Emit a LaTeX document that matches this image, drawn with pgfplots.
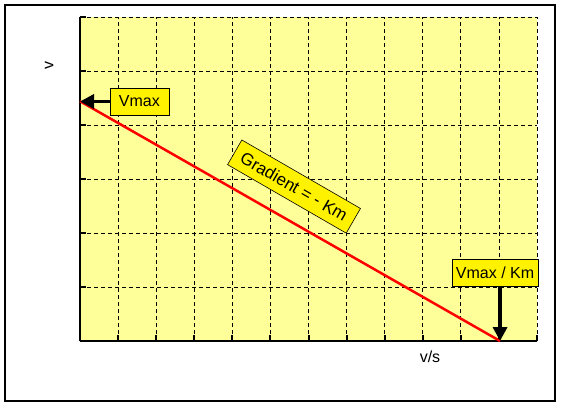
\documentclass[border=0pt]{standalone}
\usepackage{fontspec}
\setmainfont{Liberation Sans}
\usepackage{pgfplots}
\pgfplotsset{compat=1.18}
\usetikzlibrary{arrows.meta}
\definecolor{bgyellow}{RGB}{255,255,153}
\begin{document}
\begin{tikzpicture}[x=1pt,y=1pt]
\useasboundingbox (0,0) rectangle (562,408);
\draw[line width=1.2pt] (5,7) rectangle (555,403);
\begin{axis}[at={(80pt,67pt)}, anchor=south west, scale only axis,
  width=457pt, height=324pt,
  xmin=0, xmax=12, ymin=0, ymax=6,
  xtick={0,...,12}, ytick={0,...,6},
  xticklabels={}, yticklabels={},
  axis x line*=bottom, axis y line*=left,
  axis line style={line width=2pt, black},
  tick align=inside, major tick length=6pt,
  tick style={line width=2pt, black},
  grid=major,
  major grid style={black, line width=0.8pt, dash pattern=on 4pt off 3pt},
  axis background/.style={fill=bgyellow},
  clip=false]
\addplot[red, line width=2.5pt] coordinates {(0,4.44) (11.03,0)};
\node[draw=black, fill=yellow, line width=0.6pt, minimum width=59pt, minimum height=27pt, inner sep=0pt, font=\fontsize{16}{19}\selectfont] (vm) at (axis cs:1.56,4.435) {Vmax};
\draw[line width=3.5pt, -{Triangle[length=14pt,width=14pt]}] (vm.west) -- (axis cs:0,4.435);
\node[draw=black, fill=yellow, line width=0.6pt, minimum width=86pt, minimum height=27pt, inner sep=0pt, font=\fontsize{16}{19}\selectfont] (vk) at (axis cs:10.9,1.27) {Vmax / Km};
\draw[line width=3.5pt, -{Triangle[length=14pt,width=14pt]}] (axis cs:11.03,1.02) -- (axis cs:11.03,0);
\node[draw=black, fill=yellow, line width=0.6pt, minimum width=137pt, minimum height=28.5pt, inner sep=0pt, rotate=-30, font=\fontsize{17}{20}\selectfont] at (axis cs:5.62,2.86) {Gradient = - Km};
\node[rotate=90, font=\fontsize{16}{19}\selectfont] at (axis cs:-0.81,5.11) {v};
\node[font=\fontsize{16}{19}\selectfont] at (axis cs:9.19,-0.30) {v/s};
\end{axis}
\end{tikzpicture}
\end{document}
